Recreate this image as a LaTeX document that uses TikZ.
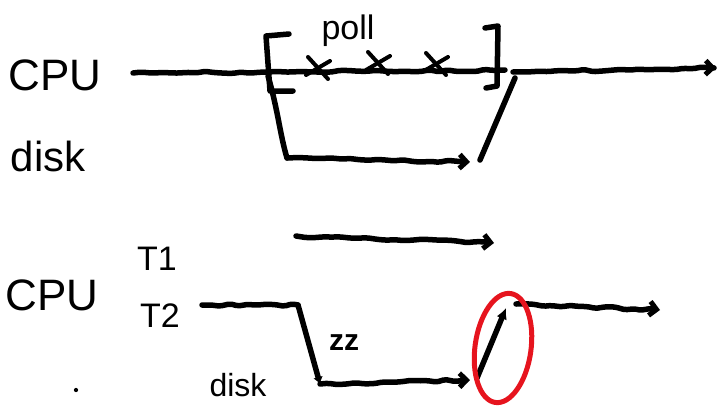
\documentclass[tikz,border=0pt]{standalone}
\usepackage{fontspec}
\setmainfont{Liberation Sans}
\usetikzlibrary{arrows.meta,decorations.pathmorphing,shapes.geometric}
\begin{document}
\begin{tikzpicture}[x=1pt,y=-1pt,
  ink/.style={line width=5.5pt,line cap=round,line join=round,black},
  wavy/.style={ink,decorate,decoration={random steps,segment length=9pt,amplitude=1.3pt},rounded corners=2pt},
  barb/.style={-{Straight Barb[length=7pt,width=14pt,line width=5pt]}},
  lbl/.style={inner sep=0pt,anchor=center},
  redring/.style={line width=5pt,draw={rgb,255:red,230;green,20;blue,30}}]
\useasboundingbox (0,0) rectangle (722,412);
% labels
\node[lbl,font=\fontsize{44}{44}\selectfont] (cpu1) at (55,75) {CPU};
\node[lbl,font=\fontsize{42}{42}\selectfont] (disk1) at (48,156) {disk};
\node[lbl,font=\fontsize{34}{34}\selectfont] (poll) at (348,31) {poll};
\node[lbl,font=\fontsize{44}{44}\selectfont] (cpu2) at (52,295) {CPU};
\node[lbl,font=\fontsize{34}{34}\selectfont] (t1) at (157,259) {T1};
\node[lbl,font=\fontsize{34}{34}\selectfont] (t2) at (160,316) {T2};
\node[lbl,font=\fontsize{32}{32}\selectfont] (disk2) at (238,385) {disk};
\node[lbl,font=\bfseries\fontsize{30}{30}\selectfont] (zz) at (344,343) {zz};
\node[circle,fill=black,inner sep=1.5pt] (dot) at (76,390) {};
% top diagram coordinates
\coordinate (a0) at (133,73);
\coordinate (a1) at (268,72);
\coordinate (a2) at (505,70);
\coordinate (a3) at (513,72);
\coordinate (a4) at (716,68);
\coordinate (d0) at (268,76);
\coordinate (d1) at (287,158);
\coordinate (d2) at (470,162);
\coordinate (u0) at (480,160);
\coordinate (u1) at (515,78);
% top CPU line
\draw[wavy] (a0) -- (a1);
\draw[wavy] (a1) -- (a2);
\draw[wavy,barb] (a3) -- (a4);
% brackets
\draw[ink] (289,34) -- (266,36) -- (270,91) -- (293,91);
\draw[ink] (485,28) -- (498,26) -- (497,86) -- (486,88);
% crosses
\foreach \x/\y in {318/68,378/63,436/64}{
  \draw[ink,line width=4pt] (\x-10,\y-11) -- (\x+10,\y+11);
  \draw[ink,line width=4pt] (\x+12,\y-7) -- (\x-12,\y+7);
}
% descent to disk and disk work
\draw[ink] (d0) .. controls (278,110) and (280,135) .. (d1);
\draw[wavy,barb] (d1) -- (d2);
\draw[ink] (u0) -- (u1);
% second diagram
\coordinate (b0) at (296,236);
\coordinate (b1) at (494,243);
\draw[wavy,barb] (b0) -- (b1);
\coordinate (c0) at (202,305);
\coordinate (c1) at (298,305);
\coordinate (c2) at (320,384);
\coordinate (c3) at (470,380);
\coordinate (c4) at (477,378);
\coordinate (c5) at (506,308);
\coordinate (c6) at (516,304);
\coordinate (c7) at (660,310);
\draw[wavy] (c0) -- (c1);
\draw[ink,-{Latex[length=7pt,width=10pt]}] (c1) -- (c2);
\draw[wavy,barb] (c2) -- (c3);
\draw[ink,-{Latex[length=11pt,width=11pt]}] (c4) -- (c5);
\draw[wavy,barb] (c6) -- (c7);
% red ring
\node[redring,ellipse,minimum width=56pt,minimum height=110pt,rotate=-8,inner sep=0pt] (ring) at (503,348) {};
\end{tikzpicture}
\end{document}
